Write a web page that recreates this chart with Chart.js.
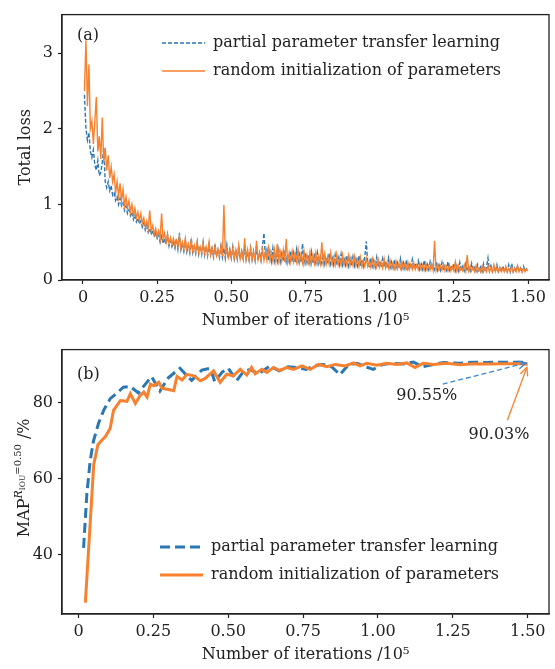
<!DOCTYPE html>
<html>
<head>
<meta charset="utf-8">
<script src="https://cdn.jsdelivr.net/npm/chart.js@4.4.1/dist/chart.umd.min.js"></script>
<style>
  html, body { margin: 0; padding: 0; background: #fff; }
  #wrap { position: relative; width: 555px; height: 669px; }
  #wrap canvas { position: absolute; left: 0; }
</style>
</head>
<body>
<div id="wrap">
  <canvas id="lossChart" width="555" height="335" style="top:0"></canvas>
  <canvas id="mapChart" width="555" height="334" style="top:335px"></canvas>
</div>
<script>
// ---- (a) total loss, logged every 500 iterations (x in units of 1e5) ----
const lossIter = [
  0.005, 0.010, 0.015, 0.020, 0.025, 0.030, 0.035, 0.040, 0.045, 0.050, 0.055, 0.060, 0.065, 0.070, 0.075, 0.080, 0.085, 0.090, 0.095, 0.100,
  0.105, 0.110, 0.115, 0.120, 0.125, 0.130, 0.135, 0.140, 0.145, 0.150, 0.155, 0.160, 0.165, 0.170, 0.175, 0.180, 0.185, 0.190, 0.195, 0.200,
  0.205, 0.210, 0.215, 0.220, 0.225, 0.230, 0.235, 0.240, 0.245, 0.250, 0.255, 0.260, 0.265, 0.270, 0.275, 0.280, 0.285, 0.290, 0.295, 0.300,
  0.305, 0.310, 0.315, 0.320, 0.325, 0.330, 0.335, 0.340, 0.345, 0.350, 0.355, 0.360, 0.365, 0.370, 0.375, 0.380, 0.385, 0.390, 0.395, 0.400,
  0.405, 0.410, 0.415, 0.420, 0.425, 0.430, 0.435, 0.440, 0.445, 0.450, 0.455, 0.460, 0.465, 0.470, 0.475, 0.480, 0.485, 0.490, 0.495, 0.500,
  0.505, 0.510, 0.515, 0.520, 0.525, 0.530, 0.535, 0.540, 0.545, 0.550, 0.555, 0.560, 0.565, 0.570, 0.575, 0.580, 0.585, 0.590, 0.595, 0.600,
  0.605, 0.610, 0.615, 0.620, 0.625, 0.630, 0.635, 0.640, 0.645, 0.650, 0.655, 0.660, 0.665, 0.670, 0.675, 0.680, 0.685, 0.690, 0.695, 0.700,
  0.705, 0.710, 0.715, 0.720, 0.725, 0.730, 0.735, 0.740, 0.745, 0.750, 0.755, 0.760, 0.765, 0.770, 0.775, 0.780, 0.785, 0.790, 0.795, 0.800,
  0.805, 0.810, 0.815, 0.820, 0.825, 0.830, 0.835, 0.840, 0.845, 0.850, 0.855, 0.860, 0.865, 0.870, 0.875, 0.880, 0.885, 0.890, 0.895, 0.900,
  0.905, 0.910, 0.915, 0.920, 0.925, 0.930, 0.935, 0.940, 0.945, 0.950, 0.955, 0.960, 0.965, 0.970, 0.975, 0.980, 0.985, 0.990, 0.995, 1.000,
  1.005, 1.010, 1.015, 1.020, 1.025, 1.030, 1.035, 1.040, 1.045, 1.050, 1.055, 1.060, 1.065, 1.070, 1.075, 1.080, 1.085, 1.090, 1.095, 1.100,
  1.105, 1.110, 1.115, 1.120, 1.125, 1.130, 1.135, 1.140, 1.145, 1.150, 1.155, 1.160, 1.165, 1.170, 1.175, 1.180, 1.185, 1.190, 1.195, 1.200,
  1.205, 1.210, 1.215, 1.220, 1.225, 1.230, 1.235, 1.240, 1.245, 1.250, 1.255, 1.260, 1.265, 1.270, 1.275, 1.280, 1.285, 1.290, 1.295, 1.300,
  1.305, 1.310, 1.315, 1.320, 1.325, 1.330, 1.335, 1.340, 1.345, 1.350, 1.355, 1.360, 1.365, 1.370, 1.375, 1.380, 1.385, 1.390, 1.395, 1.400,
  1.405, 1.410, 1.415, 1.420, 1.425, 1.430, 1.435, 1.440, 1.445, 1.450, 1.455, 1.460, 1.465, 1.470, 1.475, 1.480, 1.485, 1.490, 1.495, 1.500
];
const lossTransfer = [
  2.45, 2.0, 1.85, 1.95, 1.7, 1.62, 1.72, 1.52, 1.45, 1.58, 1.38, 1.42, 1.55, 1.75, 1.3, 1.22, 1.3, 1.18, 1.25, 1.12,
  1.15, 1.05, 1.1, 1.0, 1.08, 0.98, 1.02, 0.92, 0.98, 0.88, 0.93, 0.85, 0.9, 0.8, 0.86, 0.77, 0.82, 0.74, 0.78, 0.7,
  0.75, 0.66, 0.72, 0.63, 0.68, 0.6, 0.66, 0.57, 0.62, 0.55, 0.6, 0.5, 0.58, 0.48, 0.55, 0.47, 0.6, 0.45, 0.52, 0.44,
  0.5, 0.42, 0.55, 0.41, 0.62, 0.4, 0.48, 0.38, 0.52, 0.37, 0.46, 0.36, 0.55, 0.36, 0.44, 0.35, 0.5, 0.34, 0.45, 0.34,
  0.5, 0.33, 0.44, 0.32, 0.47, 0.33, 0.42, 0.31, 0.48, 0.31, 0.4, 0.3, 0.45, 0.3, 0.42, 0.29, 0.46, 0.29, 0.4, 0.29,
  0.44, 0.28, 0.4, 0.28, 0.45, 0.27, 0.38, 0.28, 0.43, 0.27, 0.37, 0.26, 0.42, 0.27, 0.38, 0.26, 0.44, 0.26, 0.36, 0.26,
  0.45, 0.62, 0.3, 0.4, 0.26, 0.38, 0.25, 0.42, 0.25, 0.36, 0.25, 0.4, 0.24, 0.35, 0.25, 0.39, 0.24, 0.34, 0.24, 0.38,
  0.24, 0.36, 0.23, 0.4, 0.24, 0.34, 0.23, 0.48, 0.23, 0.36, 0.23, 0.33, 0.22, 0.37, 0.22, 0.32, 0.22, 0.36, 0.22, 0.31,
  0.22, 0.34, 0.21, 0.3, 0.21, 0.35, 0.21, 0.29, 0.2, 0.33, 0.2, 0.3, 0.2, 0.34, 0.2, 0.28, 0.2, 0.32, 0.19, 0.29,
  0.19, 0.31, 0.19, 0.28, 0.19, 0.32, 0.18, 0.27, 0.18, 0.31, 0.51, 0.2, 0.18, 0.29, 0.18, 0.26, 0.17, 0.3, 0.17, 0.25,
  0.17, 0.28, 0.17, 0.25, 0.16, 0.29, 0.16, 0.24, 0.16, 0.27, 0.16, 0.23, 0.16, 0.28, 0.15, 0.23, 0.15, 0.26, 0.15, 0.22,
  0.15, 0.27, 0.15, 0.22, 0.15, 0.25, 0.14, 0.21, 0.14, 0.26, 0.14, 0.21, 0.14, 0.24, 0.14, 0.2, 0.14, 0.25, 0.13, 0.2,
  0.13, 0.23, 0.13, 0.19, 0.13, 0.24, 0.13, 0.19, 0.13, 0.22, 0.12, 0.19, 0.12, 0.23, 0.12, 0.18, 0.12, 0.21, 0.12, 0.18,
  0.12, 0.22, 0.12, 0.18, 0.12, 0.2, 0.11, 0.17, 0.11, 0.21, 0.11, 0.17, 0.29, 0.12, 0.19, 0.11, 0.17, 0.11, 0.2, 0.11,
  0.17, 0.11, 0.19, 0.11, 0.16, 0.11, 0.2, 0.11, 0.22, 0.11, 0.16, 0.11, 0.19, 0.11, 0.16, 0.11, 0.18, 0.11, 0.15, 0.13
];
const lossRandom = [
  2.5, 3.17, 2.3, 2.85, 2.0, 2.1, 1.8, 2.1, 2.42, 1.7, 1.9, 1.6, 2.15, 1.55, 1.75, 1.45, 1.65, 1.35, 1.5, 1.3,
  1.4, 1.15, 1.3, 1.1, 1.28, 1.05, 1.2, 0.98, 1.1, 0.95, 1.05, 0.9, 1.0, 0.85, 0.95, 0.82, 0.9, 0.78, 0.88, 0.75,
  0.82, 0.7, 0.78, 0.68, 0.92, 0.65, 0.72, 0.6, 0.68, 0.58, 0.65, 0.55, 0.88, 0.54, 0.62, 0.5, 0.6, 0.48, 0.56, 0.47,
  0.55, 0.45, 0.52, 0.44, 0.58, 0.42, 0.5, 0.41, 0.55, 0.4, 0.48, 0.38, 0.52, 0.38, 0.46, 0.37, 0.5, 0.36, 0.44, 0.36,
  0.48, 0.35, 0.44, 0.34, 0.5, 0.33, 0.42, 0.33, 0.45, 0.32, 0.4, 0.32, 0.44, 0.31, 0.99, 0.32, 0.42, 0.3, 0.4, 0.3,
  0.42, 0.29, 0.4, 0.29, 0.46, 0.28, 0.38, 0.28, 0.55, 0.28, 0.4, 0.27, 0.42, 0.27, 0.37, 0.27, 0.52, 0.27, 0.36, 0.26,
  0.4, 0.26, 0.38, 0.26, 0.42, 0.26, 0.36, 0.25, 0.4, 0.25, 0.48, 0.25, 0.37, 0.25, 0.4, 0.24, 0.54, 0.24, 0.36, 0.24,
  0.38, 0.24, 0.35, 0.24, 0.4, 0.23, 0.34, 0.23, 0.38, 0.23, 0.33, 0.23, 0.37, 0.22, 0.33, 0.22, 0.36, 0.22, 0.32, 0.22,
  0.5, 0.22, 0.35, 0.21, 0.31, 0.21, 0.36, 0.21, 0.3, 0.2, 0.34, 0.2, 0.29, 0.2, 0.33, 0.2, 0.28, 0.19, 0.32, 0.19,
  0.28, 0.19, 0.31, 0.19, 0.27, 0.18, 0.3, 0.18, 0.26, 0.18, 0.29, 0.18, 0.25, 0.17, 0.28, 0.17, 0.24, 0.17, 0.27, 0.17,
  0.24, 0.16, 0.28, 0.16, 0.23, 0.16, 0.26, 0.16, 0.22, 0.15, 0.25, 0.15, 0.22, 0.15, 0.24, 0.15, 0.21, 0.15, 0.24, 0.14,
  0.21, 0.14, 0.23, 0.14, 0.2, 0.14, 0.22, 0.14, 0.2, 0.13, 0.22, 0.13, 0.19, 0.13, 0.21, 0.13, 0.52, 0.13, 0.2, 0.13,
  0.19, 0.13, 0.21, 0.12, 0.18, 0.12, 0.2, 0.12, 0.18, 0.12, 0.24, 0.12, 0.19, 0.12, 0.17, 0.12, 0.2, 0.12, 0.33, 0.12,
  0.18, 0.12, 0.17, 0.11, 0.19, 0.11, 0.16, 0.11, 0.18, 0.11, 0.16, 0.11, 0.19, 0.11, 0.16, 0.11, 0.2, 0.11, 0.16, 0.11,
  0.17, 0.11, 0.15, 0.11, 0.18, 0.11, 0.15, 0.11, 0.17, 0.11, 0.15, 0.11, 0.19, 0.11, 0.15, 0.11, 0.16, 0.11, 0.14, 0.12
];

// ---- (b) mAP (IoU = 0.50) ----
const mapTransferIter = [
  0.017, 0.028, 0.039, 0.05, 0.067, 0.084, 0.106, 0.129, 0.15, 0.173,
  0.2, 0.22, 0.244, 0.272, 0.3, 0.339, 0.362, 0.378, 0.412, 0.44,
  0.455, 0.48, 0.5, 0.528, 0.55, 0.573, 0.6, 0.64, 0.67, 0.7,
  0.729, 0.76, 0.79, 0.817, 0.845, 0.873, 0.9, 0.929, 0.955, 0.984,
  1.015, 1.05, 1.085, 1.118, 1.15, 1.185, 1.22, 1.274, 1.32, 1.363,
  1.42, 1.474, 1.5
];
const mapTransfer = [
  41.7, 55.9, 64.6, 69.8, 74.5, 77.9, 81.0, 82.5, 84.0, 84.2,
  82.5, 84.5, 86.8, 83.0, 86.5, 89.0, 87.0, 85.8, 88.5, 89.0,
  85.5, 88.0, 89.0, 85.7, 88.0, 88.7, 87.5, 89.6, 88.3, 89.4,
  89.2, 88.7, 89.7, 90.0, 89.4, 87.3, 89.8, 90.3, 89.5, 88.7,
  90.0, 90.3, 90.1, 90.6, 89.4, 90.0, 90.5, 90.3, 90.6, 90.5,
  90.6, 90.6, 90.55
];
const mapRandomIter = [
  0.023, 0.051, 0.065, 0.09, 0.106, 0.117, 0.14, 0.162, 0.173, 0.19,
  0.206, 0.218, 0.229, 0.24, 0.251, 0.268, 0.279, 0.301, 0.318, 0.329,
  0.346, 0.362, 0.385, 0.407, 0.423, 0.451, 0.473, 0.495, 0.517, 0.54,
  0.562, 0.578, 0.59, 0.612, 0.629, 0.651, 0.673, 0.696, 0.718, 0.746,
  0.774, 0.802, 0.829, 0.857, 0.891, 0.918, 0.94, 0.963, 0.996, 1.029,
  1.063, 1.096, 1.124, 1.151, 1.185, 1.229, 1.274, 1.318, 1.363, 1.418,
  1.474, 1.5
];
const mapRandom = [
  27.3, 63.7, 68.9, 71.0, 73.2, 77.9, 80.5, 80.3, 82.3, 79.7,
  81.8, 82.7, 81.4, 84.8, 84.4, 85.3, 83.7, 83.4, 83.1, 86.8,
  85.9, 87.4, 87.0, 85.7, 86.3, 88.3, 85.3, 87.4, 87.0, 88.7,
  87.2, 89.2, 87.5, 88.7, 87.9, 89.2, 88.4, 89.2, 88.7, 89.6,
  88.7, 90.0, 89.4, 90.0, 89.6, 90.4, 89.6, 90.3, 89.8, 90.3,
  90.0, 90.4, 89.2, 90.3, 90.0, 90.3, 89.9, 90.2, 90.1, 90.2,
  90.2, 90.03
];

const seriesNames = ['partial parameter transfer learning', 'random initialization of parameters'];
const xTicks = [0, 0.25, 0.5, 0.75, 1.0, 1.25, 1.5];
const xTickLabels = ['0', '0.25', '0.50', '0.75', '1.00', '1.25', '1.50'];
const lossTicks = [0, 1, 2, 3];
const mapTicks = [40, 60, 80];
// final-value callouts: text, text position, arrow start, arrow tip (data units)
const calloutText = ['90.55%', '90.03%'];
const calloutTextAt = [[1.163, 81.8], [1.404, 71.5]];
const calloutFrom = [[1.216, 84.8], [1.432, 75.3]];
const calloutTo = [[1.495, 90.4], [1.497, 89.2]];

const BLUE = '#2a77b4';
const ORANGE = '#f7812f';
const INK = '#222';
const FONT = '"DejaVu Serif", "Liberation Serif", serif';

function xy(xs, ys) { return xs.map((x, i) => ({ x: x, y: ys[i] })); }

// frame, panel tag and legend drawn inside the plot area
const boxPlugin = {
  id: 'box',
  afterDraw(chart, args, opts) {
    const { ctx, chartArea: a } = chart;
    ctx.save();
    ctx.strokeStyle = INK;
    ctx.lineWidth = 1.3;
    ctx.strokeRect(a.left, a.top, a.right - a.left, a.bottom - a.top);
    ctx.fillStyle = INK;
    ctx.font = '16px ' + FONT;
    ctx.textBaseline = 'middle';
    ctx.fillText(opts.tag, a.left + 15, a.top + opts.tagDy);
    const L = opts.legend;
    [0, 1].forEach(i => {
      const y = L.y + i * L.gap;
      ctx.beginPath();
      ctx.strokeStyle = i === 0 ? BLUE : ORANGE;
      ctx.lineWidth = L.lw;
      ctx.setLineDash(i === 0 ? L.dash : []);
      ctx.moveTo(L.x, y);
      ctx.lineTo(L.x + 43, y);
      ctx.stroke();
      ctx.setLineDash([]);
      ctx.fillStyle = INK;
      ctx.fillText(seriesNames[i], L.x + 51, y);
    });
    ctx.restore();
  }
};

function scaleX(min, max) {
  return {
    type: 'linear', min: min, max: max,
    afterBuildTicks: s => { s.ticks = xTicks.map(v => ({ value: v })); },
    afterFit: s => { s.height = 55; },
    ticks: {
      color: INK, font: { family: FONT, size: 16 }, padding: 4,
      callback: (v, i) => xTickLabels[i]
    },
    grid: { drawOnChartArea: false, drawTicks: true, tickLength: 4, tickColor: INK, tickWidth: 1.2 },
    border: { display: true, color: INK, width: 1.3 },
    title: {
      display: true, text: 'Number of iterations /10\u2075', color: INK,
      font: { family: FONT, size: 16 }, padding: { top: 0, bottom: 5 }
    }
  };
}

// ---- chart (a) ----
new Chart(document.getElementById('lossChart'), {
  type: 'line',
  data: {
    datasets: [
      { label: seriesNames[0], data: xy(lossIter, lossTransfer), borderColor: BLUE, borderWidth: 1.4,
        borderDash: [4, 2], pointRadius: 0, tension: 0, order: 2 },
      { label: seriesNames[1], data: xy(lossIter, lossRandom), borderColor: ORANGE, borderWidth: 1.4,
        pointRadius: 0, tension: 0, order: 1 }
    ]
  },
  options: {
    responsive: false, animation: false, devicePixelRatio: 1,
    layout: { padding: { top: 5, right: 6, left: 0, bottom: 0 } },
    plugins: {
      legend: { display: false }, tooltip: { enabled: false },
      box: { tag: '(a)', tagDy: 21, legend: { x: 162, y: 43, gap: 28, lw: 1.4, dash: [4, 2] } }
    },
    scales: {
      x: scaleX(-0.0707, 1.5707),
      y: {
        min: 0, max: 3.51,
        afterBuildTicks: s => { s.ticks = lossTicks.map(v => ({ value: v })); },
        afterFit: s => { s.width = 62; },
        ticks: { color: INK, font: { family: FONT, size: 16 }, padding: 5 },
        grid: { drawOnChartArea: false, drawTicks: true, tickLength: 4, tickColor: INK, tickWidth: 1.2 },
        border: { display: true, color: INK, width: 1.3 },
        title: { display: true, text: 'Total loss', color: INK, font: { family: FONT, size: 16 }, padding: { top: 16 } }
      }
    }
  },
  plugins: [boxPlugin]
});

// ---- chart (b): y title with super/subscript and the callout arrows ----
const mapExtras = {
  id: 'mapExtras',
  afterDraw(chart) {
    const { ctx, scales: { x, y }, chartArea: a } = chart;
    ctx.save();
    const parts = [
      { t: 'MAP', size: 16, rise: 0, italic: false },
      { t: 'R', size: 11, rise: 7, italic: true },
      { t: 'IOU', size: 7.5, rise: 4, italic: false },
      { t: '=0.50', size: 10, rise: 8, italic: false },
      { t: ' /%', size: 16, rise: 0, italic: false }
    ];
    let total = 0;
    parts.forEach(p => {
      ctx.font = (p.italic ? 'italic ' : '') + p.size + 'px ' + FONT;
      p.w = ctx.measureText(p.t).width;
      total += p.w;
    });
    ctx.translate(29, (a.top + a.bottom) / 2 - 4);
    ctx.rotate(-Math.PI / 2);
    ctx.fillStyle = INK;
    ctx.textBaseline = 'alphabetic';
    let cx = -total / 2;
    parts.forEach(p => {
      ctx.font = (p.italic ? 'italic ' : '') + p.size + 'px ' + FONT;
      ctx.fillText(p.t, cx, -p.rise);
      cx += p.w;
    });
    ctx.restore();

    ctx.save();
    ctx.font = '16px ' + FONT;
    ctx.textAlign = 'center';
    ctx.textBaseline = 'middle';
    [0, 1].forEach(i => {
      const tx = x.getPixelForValue(calloutTextAt[i][0]);
      const ty = y.getPixelForValue(calloutTextAt[i][1]);
      ctx.fillStyle = INK;
      ctx.fillText(calloutText[i], tx, ty);
      const x0 = x.getPixelForValue(calloutFrom[i][0]), y0 = y.getPixelForValue(calloutFrom[i][1]);
      const x1 = x.getPixelForValue(calloutTo[i][0]), y1 = y.getPixelForValue(calloutTo[i][1]);
      ctx.strokeStyle = i === 0 ? '#3a86d0' : ORANGE;
      ctx.lineWidth = 1.3;
      ctx.setLineDash(i === 0 ? [5, 3] : []);
      ctx.beginPath();
      ctx.moveTo(x0, y0);
      ctx.lineTo(x1, y1);
      ctx.stroke();
      ctx.setLineDash([]);
      const ang = Math.atan2(y1 - y0, x1 - x0);
      const hl = 9, hw = 0.45;
      ctx.beginPath();
      ctx.moveTo(x1 - hl * Math.cos(ang - hw), y1 - hl * Math.sin(ang - hw));
      ctx.lineTo(x1, y1);
      ctx.lineTo(x1 - hl * Math.cos(ang + hw), y1 - hl * Math.sin(ang + hw));
      ctx.stroke();
    });
    ctx.restore();
  }
};

new Chart(document.getElementById('mapChart'), {
  type: 'line',
  data: {
    datasets: [
      { label: seriesNames[0], data: xy(mapTransferIter, mapTransfer), borderColor: BLUE, borderWidth: 3,
        borderDash: [10, 5], pointRadius: 0, tension: 0, order: 2 },
      { label: seriesNames[1], data: xy(mapRandomIter, mapRandom), borderColor: ORANGE, borderWidth: 3,
        pointRadius: 0, tension: 0, order: 1 }
    ]
  },
  options: {
    responsive: false, animation: false, devicePixelRatio: 1,
    layout: { padding: { top: 10, right: 6, left: 0, bottom: 0 } },
    plugins: {
      legend: { display: false }, tooltip: { enabled: false },
      box: { tag: '(b)', tagDy: 25, legend: { x: 160, y: 212, gap: 28, lw: 3, dash: [10, 5] } }
    },
    scales: {
      x: scaleX(-0.055, 1.571),
      y: {
        min: 24.3, max: 93.9,
        afterBuildTicks: s => { s.ticks = mapTicks.map(v => ({ value: v })); },
        afterFit: s => { s.width = 62; },
        ticks: { color: INK, font: { family: FONT, size: 16 }, padding: 5 },
        grid: { drawOnChartArea: false, drawTicks: true, tickLength: 4, tickColor: INK, tickWidth: 1.2 },
        border: { display: true, color: INK, width: 1.3 }
      }
    }
  },
  plugins: [boxPlugin, mapExtras]
});
</script>
</body>
</html>
